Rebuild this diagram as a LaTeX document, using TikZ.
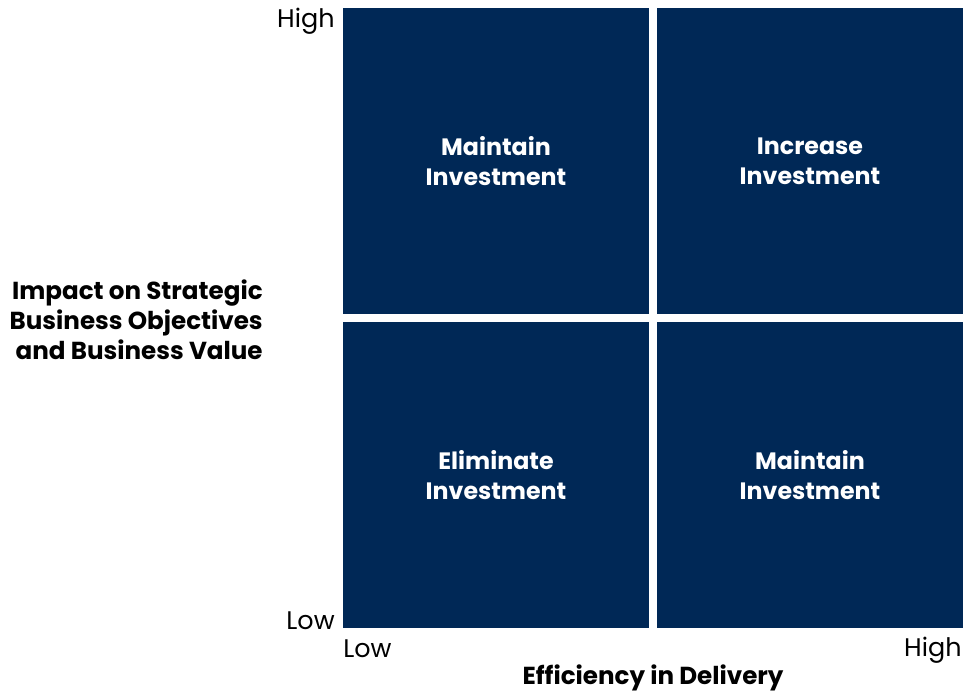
\documentclass[tikz,border=0pt]{standalone}
\usepackage{fontspec}
\setmainfont{Poppins}
\usetikzlibrary{positioning}

\definecolor{navy}{HTML}{002856}

\tikzset{
	quad/.style = {fill = navy, text = white, font = \bfseries\fontsize{13.5}{17}\selectfont,
		minimum width = 6.12cm, minimum height = 6.12cm, inner sep = 0pt, align = center},
	tick/.style = {font = \fontsize{14.5}{17}\selectfont, inner sep = 0pt},
	axislabel/.style = {font = \bfseries\fontsize{14}{17}\selectfont, inner sep = 0pt}
}

\begin{document}
\begin{tikzpicture}[x = 0.02cm, y = -0.02cm]
	\useasboundingbox (0,0) rectangle (963,691);

	% the four quadrants
	\begin{scope}
		\node [quad] (topleft)  at (496,161) {Maintain\\Investment};
		\node [quad] (topright) at (810,161) {Increase\\Investment};
		\node [quad] (botleft)  at (496,475) {Eliminate\\Investment};
		\node [quad] (botright) at (810,475) {Maintain\\Investment};
	\end{scope}

	% vertical axis
	\begin{scope}
		\node [tick, anchor = east] (yhigh) at (335,21) {High};
		\node [tick, anchor = east] (ylow)  at (335,621) {Low};
		\node [axislabel, anchor = east, align = right] (ylabel) at (263,320)
			{Impact on Strategic\\Business Objectives\\and Business Value};
	\end{scope}

	% horizontal axis
	\begin{scope}
		\node [tick, anchor = west] (xlow)  at (343,649) {Low};
		\node [tick, anchor = east] (xhigh) at (962,650) {High};
		\node [axislabel] (xlabel) at (653,678) {Efficiency in Delivery};
	\end{scope}
\end{tikzpicture}
\end{document}
